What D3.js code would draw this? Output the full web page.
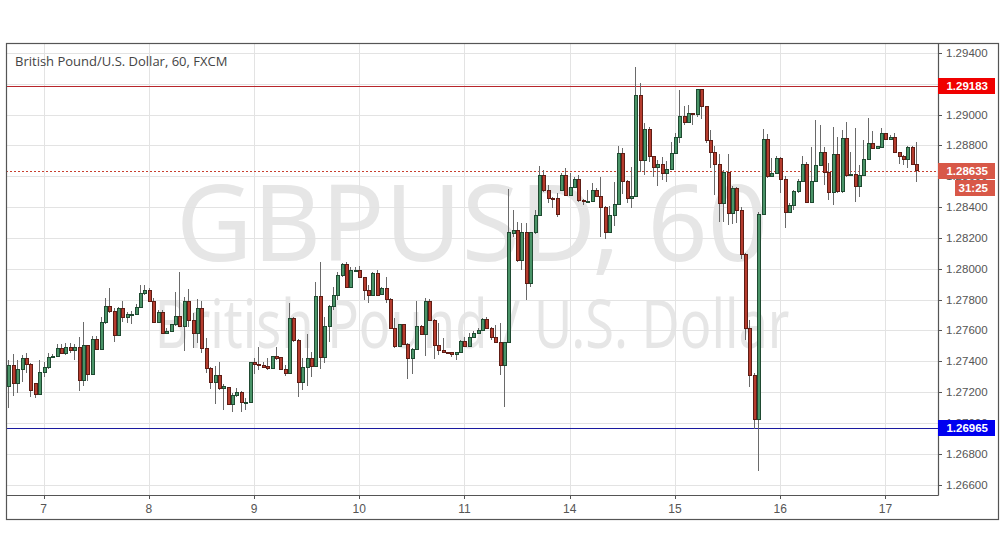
<!DOCTYPE html>
<html><head><meta charset="utf-8">
<script src="https://cdn.jsdelivr.net/npm/d3@7"></script>
<style>html,body{margin:0;padding:0;background:#fff;} svg{display:block;}</style>
</head><body><svg id="c" width="1002" height="557"></svg>
<script>
const title = "British Pound/U.S. Dollar, 60, FXCM";
const watermark1 = "GBPUSD, 60";
const watermark2 = "British Pound / U.S. Dollar";
const dayLabels = ["7","8","9","10","11","14","15","16","17"];
const dayIndex = [8,32,56,80,104,128,152,176,200];
const priceTicks = [1.266,1.268,1.270,1.272,1.274,1.276,1.278,1.280,1.282,1.284,1.286,1.288,1.290,1.292,1.294];
const resistance = 1.29183;
const support = 1.26965;
const lastPrice = 1.28635;
const countdown = "31:25";
// hourly candles: [open, high, low, close]
const ohlc = [
[1.27239,1.27407,1.27094,1.27375],[1.27375,1.27444,1.27176,1.27256],[1.27256,1.27407,1.27191,1.27343],[1.27343,1.27440,1.27267,1.27418],
[1.27418,1.27451,1.27321,1.27379],[1.27381,1.27386,1.27170,1.27213],[1.27256,1.27260,1.27159,1.27187],[1.27187,1.27407,1.27182,1.27327],
[1.27327,1.27397,1.27295,1.27360],[1.27360,1.27455,1.27347,1.27425],[1.27425,1.27446,1.27420,1.27433],[1.27429,1.27511,1.27425,1.27485],
[1.27485,1.27511,1.27446,1.27451],[1.27451,1.27516,1.27438,1.27490],[1.27490,1.27516,1.27455,1.27468],[1.27468,1.27511,1.27407,1.27490],
[1.27490,1.27559,1.27208,1.27273],[1.27273,1.27654,1.27239,1.27503],[1.27503,1.27505,1.27273,1.27314],[1.27314,1.27563,1.27310,1.27542],
[1.27542,1.27563,1.27472,1.27477],[1.27477,1.27689,1.27472,1.27652],[1.27652,1.27808,1.27641,1.27754],[1.27754,1.27873,1.27710,1.27721],
[1.27723,1.27743,1.27526,1.27568],[1.27568,1.27754,1.27563,1.27741],[1.27741,1.27792,1.27656,1.27684],[1.27684,1.27721,1.27645,1.27704],
[1.27700,1.27725,1.27639,1.27704],[1.27704,1.27771,1.27699,1.27749],[1.27749,1.27894,1.27745,1.27840],[1.27840,1.27894,1.27829,1.27860],
[1.27860,1.27873,1.27784,1.27788],[1.27788,1.27808,1.27650,1.27652],[1.27652,1.27732,1.27645,1.27717],[1.27717,1.27732,1.27576,1.27581],
[1.27581,1.27613,1.27576,1.27596],[1.27593,1.27639,1.27589,1.27635],[1.27635,1.27851,1.27630,1.27689],[1.27689,1.27976,1.27619,1.27624],
[1.27624,1.27818,1.27468,1.27790],[1.27790,1.27868,1.27624,1.27667],[1.27667,1.27710,1.27483,1.27581],[1.27581,1.27801,1.27516,1.27743],
[1.27743,1.27792,1.27455,1.27483],[1.27483,1.27548,1.27321,1.27353],[1.27353,1.27360,1.27217,1.27260],[1.27260,1.27369,1.27122,1.27306],
[1.27306,1.27397,1.27213,1.27224],[1.27224,1.27252,1.27083,1.27234],[1.27230,1.27234,1.27115,1.27122],[1.27120,1.27191,1.27072,1.27180],
[1.27180,1.27224,1.27170,1.27198],[1.27198,1.27206,1.27072,1.27131],[1.27131,1.27159,1.27083,1.27135],[1.27135,1.27397,1.27126,1.27392],
[1.27392,1.27418,1.27314,1.27379],[1.27381,1.27494,1.27343,1.27373],[1.27375,1.27397,1.27353,1.27360],[1.27364,1.27418,1.27343,1.27353],
[1.27353,1.27433,1.27347,1.27429],[1.27433,1.27494,1.27407,1.27418],[1.27423,1.27429,1.27343,1.27347],[1.27347,1.27375,1.27306,1.27321],
[1.27321,1.27775,1.27317,1.27678],[1.27678,1.27689,1.27526,1.27537],[1.27537,1.27542,1.27165,1.27263],[1.27263,1.27418,1.27213,1.27358],
[1.27358,1.27576,1.27239,1.27418],[1.27418,1.27462,1.27299,1.27364],[1.27364,1.27911,1.27360,1.27823],[1.27823,1.28043,1.27347,1.27425],
[1.27425,1.27689,1.27386,1.27624],[1.27624,1.27764,1.27526,1.27754],[1.27754,1.27883,1.27732,1.27825],[1.27825,1.27981,1.27797,1.27953],
[1.27953,1.28039,1.27948,1.28030],[1.28030,1.28041,1.27873,1.27879],[1.27879,1.28009,1.27873,1.27987],[1.27983,1.28009,1.27978,1.27991],
[1.27991,1.28020,1.27937,1.27944],[1.27944,1.27948,1.27797,1.27857],[1.27862,1.27894,1.27775,1.27825],[1.27825,1.27981,1.27823,1.27970],
[1.27970,1.27991,1.27823,1.27827],[1.27834,1.27883,1.27829,1.27873],[1.27873,1.27948,1.27775,1.27801],[1.27801,1.27808,1.27606,1.27613],
[1.27613,1.27678,1.27483,1.27494],[1.27494,1.27641,1.27490,1.27635],[1.27635,1.27639,1.27505,1.27509],[1.27509,1.27516,1.27282,1.27418],
[1.27418,1.27483,1.27317,1.27477],[1.27477,1.27792,1.27472,1.27628],[1.27628,1.27635,1.27570,1.27574],[1.27574,1.27808,1.27433,1.27790],
[1.27790,1.27801,1.27663,1.27667],[1.27667,1.27671,1.27412,1.27500],[1.27500,1.27650,1.27440,1.27472],[1.27472,1.27552,1.27451,1.27455],
[1.27457,1.27462,1.27444,1.27453],[1.27457,1.27462,1.27429,1.27442],[1.27442,1.27462,1.27407,1.27457],[1.27457,1.27537,1.27451,1.27531],
[1.27531,1.27555,1.27490,1.27494],[1.27494,1.27581,1.27490,1.27555],[1.27555,1.27598,1.27548,1.27581],[1.27581,1.27613,1.27576,1.27602],
[1.27602,1.27678,1.27598,1.27671],[1.27671,1.27684,1.27609,1.27613],[1.27613,1.27624,1.27537,1.27555],[1.27555,1.27635,1.27516,1.27522],
[1.27522,1.27645,1.27310,1.27375],[1.27375,1.27524,1.27105,1.27522],[1.27522,1.28517,1.27516,1.28234],[1.28230,1.28381,1.28208,1.28245],
[1.28245,1.28305,1.28046,1.28052],[1.28052,1.28294,1.27992,1.28236],[1.28236,1.28294,1.27797,1.27905],[1.27905,1.28240,1.27883,1.28234],
[1.28234,1.28381,1.28225,1.28348],[1.28348,1.28666,1.28344,1.28602],[1.28602,1.28640,1.28500,1.28511],[1.28511,1.28543,1.28429,1.28457],
[1.28459,1.28467,1.28392,1.28455],[1.28457,1.28493,1.28333,1.28353],[1.28511,1.28623,1.28507,1.28602],[1.28602,1.28656,1.28474,1.28478],
[1.28478,1.28623,1.28474,1.28530],[1.28530,1.28597,1.28526,1.28576],[1.28576,1.28608,1.28435,1.28441],[1.28446,1.28450,1.28413,1.28435],
[1.28435,1.28511,1.28424,1.28439],[1.28435,1.28554,1.28431,1.28508],[1.28508,1.28526,1.28463,1.28467],[1.28472,1.28597,1.28208,1.28396],
[1.28398,1.28407,1.28193,1.28234],[1.28234,1.28407,1.28230,1.28348],[1.28346,1.28565,1.28277,1.28420],[1.28420,1.28796,1.28415,1.28749],
[1.28749,1.28781,1.28485,1.28565],[1.28565,1.28576,1.28424,1.28454],[1.28454,1.28658,1.28392,1.28472],[1.28472,1.29311,1.28463,1.29121],
[1.29121,1.29207,1.28630,1.28701],[1.28701,1.28943,1.28608,1.28904],[1.28904,1.28917,1.28695,1.28727],[1.28727,1.28731,1.28597,1.28656],
[1.28656,1.28705,1.28537,1.28677],[1.28677,1.28727,1.28576,1.28619],[1.28619,1.28701,1.28565,1.28645],[1.28645,1.28824,1.28640,1.28749],
[1.28749,1.28878,1.28744,1.28852],[1.28852,1.29160,1.28813,1.28991],[1.28991,1.29056,1.28932,1.28948],[1.28948,1.29062,1.28943,1.29008],
[1.29008,1.29012,1.28932,1.29000],[1.29004,1.29164,1.28982,1.29160],[1.29160,1.29164,1.28969,1.29051],[1.29051,1.29056,1.28813,1.28835],
[1.28835,1.28900,1.28651,1.28753],[1.28753,1.28796,1.28478,1.28679],[1.28679,1.28744,1.28305,1.28424],[1.28424,1.28640,1.28305,1.28625],
[1.28625,1.28744,1.28284,1.28359],[1.28359,1.28537,1.28290,1.28521],[1.28521,1.28532,1.28294,1.28381],[1.28381,1.28402,1.28063,1.28094],
[1.28094,1.28100,1.27537,1.27611],[1.27611,1.27667,1.27230,1.27306],[1.27308,1.27321,1.26958,1.27020],[1.27020,1.28370,1.26689,1.28355],
[1.28355,1.28904,1.28349,1.28839],[1.28839,1.28872,1.28586,1.28597],[1.28597,1.28716,1.28593,1.28619],[1.28619,1.28731,1.28614,1.28716],
[1.28716,1.28727,1.28493,1.28580],[1.28580,1.28601,1.28262,1.28364],[1.28364,1.28424,1.28359,1.28413],[1.28409,1.28511,1.28381,1.28504],
[1.28500,1.28580,1.28493,1.28569],[1.28569,1.28731,1.28565,1.28677],[1.28677,1.28695,1.28424,1.28428],[1.28428,1.28788,1.28424,1.28569],
[1.28569,1.28965,1.28565,1.28673],[1.28673,1.28932,1.28666,1.28755],[1.28755,1.28788,1.28543,1.28623],[1.28625,1.28684,1.28446,1.28493],
[1.28493,1.28917,1.28413,1.28742],[1.28742,1.28857,1.28493,1.28500],[1.28500,1.28900,1.28493,1.28846],[1.28846,1.28954,1.28597,1.28604],
[1.28604,1.28759,1.28601,1.28612],[1.28612,1.28911,1.28435,1.28532],[1.28532,1.28673,1.28467,1.28608],[1.28608,1.28835,1.28601,1.28712],
[1.28710,1.28976,1.28705,1.28813],[1.28813,1.28896,1.28775,1.28781],[1.28783,1.28796,1.28779,1.28792],[1.28788,1.28911,1.28781,1.28878],
[1.28878,1.28883,1.28835,1.28839],[1.28839,1.28868,1.28835,1.28852],[1.28852,1.28878,1.28749,1.28755],[1.28755,1.28759,1.28679,1.28727],
[1.28731,1.28738,1.28673,1.28710],[1.28710,1.28796,1.28651,1.28788],[1.28788,1.28796,1.28673,1.28679],[1.28679,1.28820,1.28565,1.28635]
];

const L = 6, T = 43, R = 938, B = 495, FR = 999, FB = 520;
const svg = d3.select("#c");
svg.append("rect").attr("width",1002).attr("height",557).attr("fill","#fff");

const x = d3.scaleLinear().domain([8, 200]).range([43.5, 885.4]);
const y = d3.scaleLinear().domain([1.266, 1.294]).range([484.5, 53]);

svg.append("defs").append("clipPath").attr("id","plot")
  .append("rect").attr("x",L).attr("y",T).attr("width",R-L).attr("height",B-T);

const plot = svg.append("g").attr("clip-path","url(#plot)");

// watermark (scaled horizontally to the reference width)
function watermark(txt, cx, by, size, targetW) {
  const g = plot.append("g");
  const t = g.append("text").attr("x",0).attr("y",0).attr("text-anchor","middle")
    .attr("font-family","'Noto Sans', 'DejaVu Sans', sans-serif").attr("font-size",size)
    .attr("fill","#e6e6e6").text(txt);
  const nat = t.node().getComputedTextLength() || targetW;
  g.attr("transform",`translate(${cx},${by}) scale(${targetW/nat},1)`);
}
watermark(watermark1, 472, 261, 106, 592);
watermark(watermark2, 472, 348, 68, 635);

// grid
plot.append("g").selectAll("line").data(priceTicks).join("line")
  .attr("x1",L).attr("x2",R).attr("y1",d=>Math.round(y(d))+0.5).attr("y2",d=>Math.round(y(d))+0.5)
  .attr("stroke","#e3e3e3").attr("stroke-width",1);
plot.append("g").selectAll("line").data(dayIndex).join("line")
  .attr("y1",T).attr("y2",B).attr("x1",d=>Math.round(x(d))+0.5).attr("x2",d=>Math.round(x(d))+0.5)
  .attr("stroke","#e3e3e3").attr("stroke-width",1);

// level lines
plot.append("line").attr("x1",L).attr("x2",R).attr("y1",Math.round(y(resistance))+0.5).attr("y2",Math.round(y(resistance))+0.5)
  .attr("stroke","#b8262b").attr("stroke-width",1);
plot.append("line").attr("x1",L).attr("x2",R).attr("y1",Math.round(y(support))+0.5).attr("y2",Math.round(y(support))+0.5)
  .attr("stroke","#1a1aa0").attr("stroke-width",1);
plot.append("line").attr("x1",L).attr("x2",R).attr("y1",Math.round(y(lastPrice))+0.5).attr("y2",Math.round(y(lastPrice))+0.5)
  .attr("stroke","#c8402f").attr("stroke-width",1).attr("stroke-dasharray","2,2")
  .attr("shape-rendering","crispEdges");

// candles
const cg = plot.append("g").attr("shape-rendering","crispEdges");
const idx = ohlc.map((d,i)=>i);
cg.selectAll("line.w").data(idx).join("line").attr("class","w")
  .attr("x1",i=>Math.round(x(i))+0.5).attr("x2",i=>Math.round(x(i))+0.5)
  .attr("y1",i=>y(ohlc[i][1])).attr("y2",i=>y(ohlc[i][2]))
  .attr("stroke","#6a6a6a").attr("stroke-width",1);
cg.selectAll("rect.b").data(idx).join("rect").attr("class","b")
  .attr("x",i=>Math.round(x(i))-1)
  .attr("width",3)
  .attr("y",i=>Math.min(y(ohlc[i][0]),y(ohlc[i][3])))
  .attr("height",i=>Math.max(1,Math.abs(y(ohlc[i][0])-y(ohlc[i][3]))))
  .attr("fill",i=>ohlc[i][3]>=ohlc[i][0]?"#4a9468":"#b53c2e")
  .attr("stroke",i=>ohlc[i][3]>=ohlc[i][0]?"#1f4a31":"#5e1d15")
  .attr("stroke-width",1);

// frames
svg.append("rect").attr("x",L+0.5).attr("y",T+0.5).attr("width",FR-L-1).attr("height",FB-T-1)
  .attr("fill","none").attr("stroke","#555").attr("stroke-width",1.2);
svg.append("line").attr("x1",L).attr("x2",R+0.5).attr("y1",B+0.5).attr("y2",B+0.5).attr("stroke","#555").attr("stroke-width",1.2);
svg.append("line").attr("x1",R+0.5).attr("x2",R+0.5).attr("y1",T).attr("y2",B+0.5).attr("stroke","#555").attr("stroke-width",1.2);

// title
svg.append("text").attr("x",15).attr("y",66)
  .attr("font-family","'Open Sans', 'Noto Sans', sans-serif").attr("font-size",13)
  .attr("fill","#444").text(title);

// price axis (the 1.29200 label sits fully under the resistance tag)
const shownTicks = priceTicks.filter(d => Math.abs(y(d) - y(resistance)) > 6);
const pa = svg.append("g");
pa.selectAll("line").data(priceTicks).join("line")
  .attr("x1",R).attr("x2",R+4).attr("y1",d=>Math.round(y(d))+0.5).attr("y2",d=>Math.round(y(d))+0.5)
  .attr("stroke","#555");
pa.selectAll("text").data(shownTicks).join("text")
  .attr("x",946).attr("y",d=>y(d)+4)
  .attr("font-family","'Liberation Sans', Arial, sans-serif").attr("font-size",11.5)
  .attr("fill","#555").text(d=>d.toFixed(5));

// time axis
const ta = svg.append("g");
ta.selectAll("line").data(dayIndex).join("line")
  .attr("x1",d=>Math.round(x(d))+0.5).attr("x2",d=>Math.round(x(d))+0.5).attr("y1",B).attr("y2",B+4)
  .attr("stroke","#555");
ta.selectAll("text").data(dayIndex).join("text")
  .attr("x",d=>x(d)).attr("y",513).attr("text-anchor","middle")
  .attr("font-family","'Liberation Sans Narrow', 'Liberation Sans', Arial, sans-serif").attr("font-size",12)
  .attr("fill","#555").text((d,i)=>dayLabels[i]);

// price tags
function tag(text, color, x0, yTop, w) {
  svg.append("rect").attr("x",x0).attr("y",yTop).attr("width",w).attr("height",16).attr("fill",color);
  svg.append("text").attr("x",x0+w-7).attr("y",yTop+12).attr("text-anchor","end")
    .attr("font-family","'Liberation Sans', Arial, sans-serif").attr("font-size",11.5).attr("font-weight","bold")
    .attr("fill","#fff").text(text);
}
tag(resistance.toFixed(5), "#f00000", 938, Math.round(y(resistance))-8, 57);
tag(support.toFixed(5), "#0000f0", 938, Math.round(y(support))-8, 57);
tag(lastPrice.toFixed(5), "#d85848", 938, Math.round(y(lastPrice))-8, 57);
tag(countdown, "#d85848", 955, Math.round(y(lastPrice))+9, 40);
</script></body></html>
